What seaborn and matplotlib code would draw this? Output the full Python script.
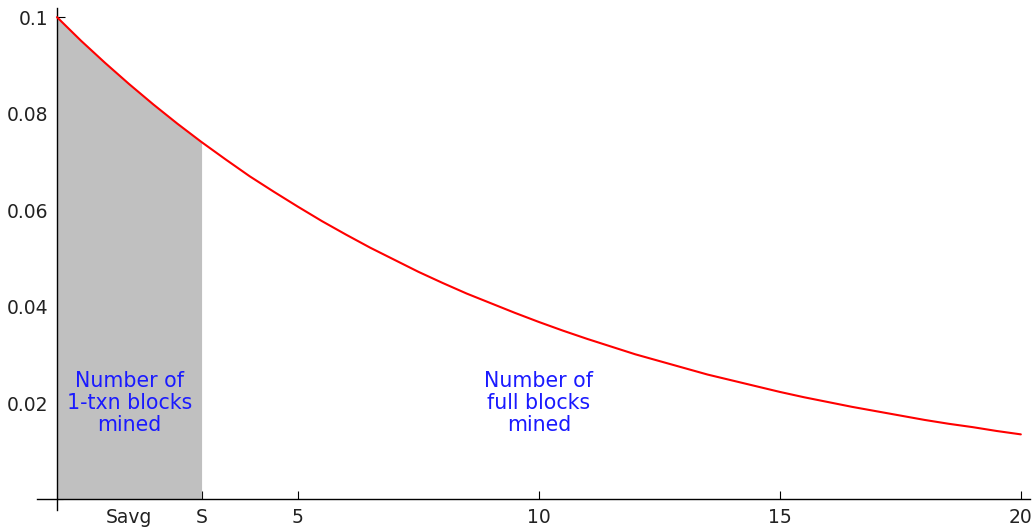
import matplotlib
matplotlib.use("Agg")
import matplotlib.pyplot as plt
from matplotlib.ticker import MultipleLocator, FixedLocator
import seaborn as sns
import pandas as pd

# Density of block inter-arrival time (rate 0.1), read every half time unit
time_pts = [0, 0.5, 1, 1.5, 2, 2.5, 3, 3.5, 4, 4.5, 5, 5.5, 6, 6.5, 7, 7.5,
            8, 8.5, 9, 9.5, 10, 10.5, 11, 11.5, 12, 12.5, 13, 13.5, 14, 14.5,
            15, 15.5, 16, 16.5, 17, 17.5, 18, 18.5, 19, 19.5, 20]
density = [0.1000, 0.0951, 0.0905, 0.0861, 0.0819, 0.0779, 0.0741, 0.0705,
           0.0670, 0.0638, 0.0607, 0.0577, 0.0549, 0.0522, 0.0497, 0.0472,
           0.0449, 0.0427, 0.0407, 0.0387, 0.0368, 0.0350, 0.0333, 0.0317,
           0.0301, 0.0287, 0.0273, 0.0259, 0.0247, 0.0235, 0.0223, 0.0212,
           0.0202, 0.0192, 0.0183, 0.0174, 0.0165, 0.0157, 0.0150, 0.0142,
           0.0135]

# Shaded interval end (S) and its midpoint (Savg)
s_value = 3
savg_value = 1.5

x_tick_pos = [savg_value, s_value, 5, 10, 15, 20]
x_tick_labels = ["Savg", "S", "5", "10", "15", "20"]
y_tick_pos = [0.02, 0.04, 0.06, 0.08, 0.1]
y_tick_labels = ["0.02", "0.04", "0.06", "0.08", "0.1"]

label_left = "Number of\n1-txn blocks\nmined"
label_right = "Number of\nfull blocks\nmined"

df = pd.DataFrame({"t": time_pts, "p": density})

sns.set_style("white")
plt.rcParams["font.family"] = ["DejaVu Sans"]

fig = plt.figure(figsize=(10.34, 5.29), dpi=100)
ax = fig.add_axes([37 / 1034, 19 / 529, 993 / 1034, 502 / 529])

shade = df[df["t"] <= s_value]
ax.fill_between(shade["t"], 0, shade["p"], color="#c0c0c0", linewidth=0, zorder=1)
sns.lineplot(data=df, x="t", y="p", color="red", linewidth=1.5, ax=ax, zorder=3)

ax.set_xlim(-0.415, 20.19)
ax.set_ylim(-0.00218, 0.1019)

for side in ("top", "right"):
    ax.spines[side].set_visible(False)
ax.spines["left"].set_position(("data", 0))
ax.spines["bottom"].set_position(("data", 0))
for side in ("left", "bottom"):
    ax.spines[side].set_color("black")
    ax.spines[side].set_linewidth(1.0)

ax.xaxis.set_major_locator(FixedLocator(x_tick_pos))
ax.set_xticklabels(x_tick_labels)
ax.yaxis.set_major_locator(FixedLocator(y_tick_pos))
ax.set_yticklabels(y_tick_labels)
ax.yaxis.set_minor_locator(MultipleLocator(0.005))

ax.tick_params(axis="x", which="major", direction="in", length=6, width=0.8,
               labelsize=13.5, pad=6, bottom=True, colors="black")
ax.tick_params(axis="y", which="major", direction="in", length=6, width=0.8,
               labelsize=13.5, pad=6, left=True, colors="black")
ax.tick_params(axis="y", which="minor", direction="in", length=4, width=0.8, left=True)
for lab in ax.get_xticklabels() + ax.get_yticklabels():
    lab.set_color("#222222")

ax.set_xlabel("")
ax.set_ylabel("")

ax.text(savg_value, 0.02, label_left, color="#1a1aff", fontsize=14.8,
        ha="center", va="center", linespacing=1.1, zorder=4)
ax.text(10, 0.02, label_right, color="#1a1aff", fontsize=14.8,
        ha="center", va="center", linespacing=1.1, zorder=4)

fig.savefig("out.png", dpi=100)
